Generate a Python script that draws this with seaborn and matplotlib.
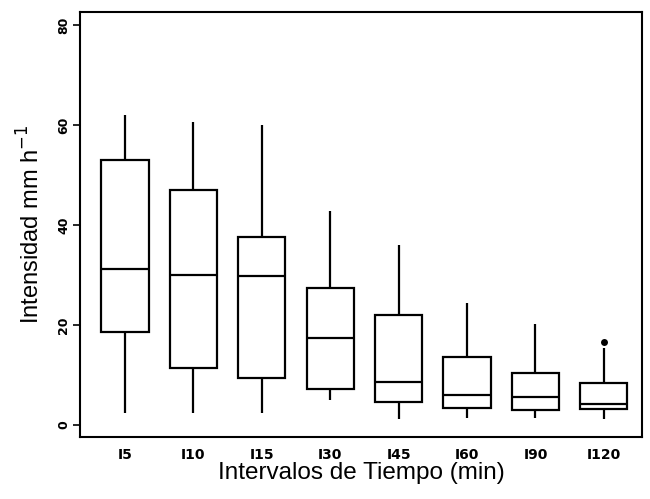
import numpy as np
import pandas as pd
import matplotlib
matplotlib.use('Agg')
import matplotlib.pyplot as plt
import seaborn as sns

### ------------------- datos --------------------------------------------
intervalos = ['I5', 'I10', 'I15', 'I30', 'I45', 'I60', 'I90', 'I120']
bigote_inf = [2.4, 2.4, 2.4, 5.0, 1.2, 1.4, 1.4, 1.2]
q1 = [18.6, 11.4, 9.4, 7.2, 4.6, 3.4, 3.0, 3.2]
mediana = [31.2, 30.0, 29.8, 17.4, 8.6, 6.0, 5.6, 4.2]
q3 = [53.0, 47.0, 37.6, 27.4, 22.0, 13.6, 10.4, 8.4]
bigote_sup = [62.0, 60.6, 60.0, 42.8, 36.0, 24.4, 20.2, 15.4]
atipico_int = ['I120']
atipico_val = [16.6]

# resumen de cinco números por intervalo -> tabla larga
filas = []
for i, nombre in enumerate(intervalos):
    for v in (bigote_inf[i], q1[i], mediana[i], q3[i], bigote_sup[i]):
        filas.append({'intervalo': nombre, 'intensidad': v})
df = pd.DataFrame(filas)

### ------------------- gráfico ----------------------
sns.set_theme(style='ticks')
plt.rcParams['font.family'] = ['Liberation Sans', 'DejaVu Sans']
plt.rcParams['text.color'] = 'black'
plt.rcParams['axes.labelcolor'] = 'black'
plt.rcParams['xtick.color'] = 'black'
plt.rcParams['ytick.color'] = 'black'

fig = plt.figure(figsize=(6.5, 4.99), dpi=100)
ax = fig.add_axes([0.123, 0.124, 0.865, 0.852])

lw = 1.6
sns.boxplot(data=df, x='intervalo', y='intensidad', order=intervalos,
            whis=(0, 100), width=0.69, color='white', linecolor='black',
            linewidth=lw, showcaps=False, ax=ax)
sns.stripplot(x=atipico_int, y=atipico_val, order=intervalos, jitter=False,
              color='black', size=5, ax=ax)

ax.set_xlim(-0.66, 7.56)
ax.set_ylim(-2.4, 82.6)
ax.set_yticks([0, 20, 40, 60, 80])

for s in ax.spines.values():
    s.set_visible(True)
    s.set_linewidth(1.5)
    s.set_color('black')

ax.tick_params(axis='x', length=0, pad=8)
ax.tick_params(axis='y', length=5, width=1.2, pad=2)
for t in ax.get_xticklabels():
    t.set_fontweight('bold')
    t.set_fontsize(10)
    t.set_family('DejaVu Sans')
for t in ax.get_yticklabels():
    t.set_fontweight('bold')
    t.set_fontsize(9)
    t.set_family('DejaVu Sans')
    t.set_rotation(90)
    t.set_verticalalignment('center')

ax.set_xlabel('Intervalos de Tiempo (min)', fontsize=17.5, labelpad=0)
ax.set_ylabel(r'Intensidad mm h$^{-1}$', fontsize=17, labelpad=9)

fig.savefig('out.png', dpi=100)
